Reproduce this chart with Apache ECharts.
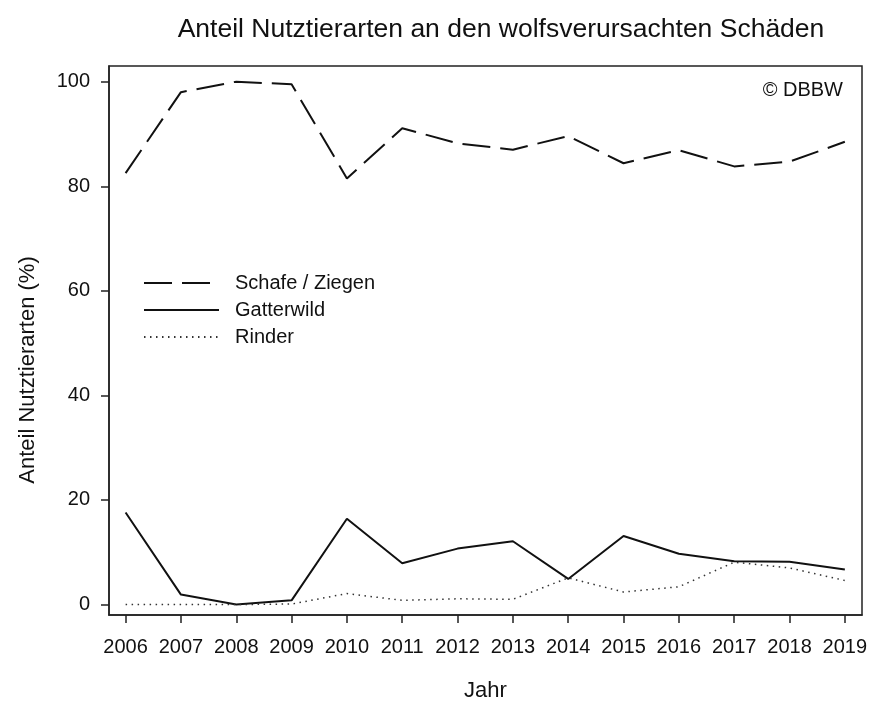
<!DOCTYPE html>
<html>
<head>
<meta charset="utf-8">
<script src="https://cdn.jsdelivr.net/npm/echarts@6/dist/echarts.min.js"></script>
<style>
  html, body { margin: 0; padding: 0; background: #fff; }
  #chart { width: 871px; height: 701px; }
</style>
</head>
<body>
<div id="chart"></div>
<script>
// Werte (Anteil in %)
const years = [2006, 2007, 2008, 2009, 2010, 2011, 2012, 2013, 2014, 2015, 2016, 2017, 2018, 2019]
const schafeZiegen = [82.5, 98.0, 100, 99.5, 81.5, 91.1, 88.2, 87.0, 89.6, 84.4, 86.9, 83.8, 84.7, 88.5]
const gatterwild = [17.6, 1.9, 0, 0.8, 16.4, 7.9, 10.7, 12.1, 4.9, 13.1, 9.7, 8.3, 8.2, 6.7]
const rinder = [0, 0, 0, 0.1, 2.1, 0.8, 1.1, 1.0, 5.1, 2.4, 3.4, 8.1, 7.0, 4.6]
const yTicks = [0, 20, 40, 60, 80, 100]

const font = 'Arial, "Liberation Sans", sans-serif'
const toPairs = arr => arr.map((v, i) => [years[i], v])

const chart = echarts.init(document.getElementById('chart'))

chart.setOption({
  animation: false,
  textStyle: { fontFamily: font, color: '#111' },
  title: {
    text: 'Anteil Nutztierarten an den wolfsverursachten Schäden',
    left: 496,
    top: 11,
    textAlign: 'center',
    textStyle: { fontSize: 26.5, fontWeight: 'normal', color: '#111', fontFamily: font }
  },
  grid: {
    left: 109,
    right: 9,
    top: 66,
    bottom: 86,
    outerBoundsMode: 'none',
    containLabel: false,
    show: true,
    borderColor: '#222',
    borderWidth: 1.5,
    backgroundColor: 'transparent'
  },
  legend: {
    orient: 'vertical',
    left: 138,
    top: 268,
    itemWidth: 75,
    itemHeight: 16,
    itemGap: 7,
    itemStyle: { opacity: 0 },
    textStyle: { fontSize: 20, color: '#111', padding: [0, 0, 0, 11] },
    data: ['Schafe / Ziegen', 'Gatterwild', 'Rinder']
  },
  xAxis: {
    type: 'value',
    min: 2005.7,
    max: 2019.31,
    name: 'Jahr',
    nameLocation: 'middle',
    nameGap: 65,
    nameTextStyle: { fontSize: 22, color: '#111' },
    axisLine: { show: true, onZero: false, lineStyle: { color: '#222', width: 1.5 } },
    axisTick: { show: true, length: 8, customValues: years, lineStyle: { color: '#222', width: 1.5 } },
    axisLabel: {
      customValues: years,
      margin: 22,
      fontSize: 20,
      color: '#111',
      formatter: v => String(v)
    },
    splitLine: { show: false }
  },
  yAxis: {
    type: 'value',
    min: -2,
    max: 103,
    axisLine: { show: true, onZero: false, lineStyle: { color: '#222', width: 1.5 } },
    axisTick: { show: true, length: 8, customValues: yTicks, lineStyle: { color: '#222', width: 1.5 } },
    axisLabel: { customValues: yTicks, margin: 19, fontSize: 20, color: '#111' },
    splitLine: { show: false }
  },
  graphic: [
    {
      type: 'text',
      x: 28,
      y: 370,
      rotation: Math.PI / 2,
      style: {
        text: 'Anteil Nutztierarten (%)',
        font: '22px ' + font,
        fill: '#111',
        align: 'center',
        verticalAlign: 'middle'
      }
    },
    {
      type: 'text',
      x: 843,
      y: 90,
      style: {
        text: '© DBBW',
        font: '20px ' + font,
        fill: '#111',
        align: 'right',
        verticalAlign: 'middle'
      }
    }
  ],
  series: [
    {
      name: 'Schafe / Ziegen',
      type: 'line',
      data: toPairs(schafeZiegen),
      showSymbol: false,
      symbol: 'none',
      lineStyle: { color: '#111', width: 2, type: [28, 10] },
      itemStyle: { color: '#111' }
    },
    {
      name: 'Gatterwild',
      type: 'line',
      data: toPairs(gatterwild),
      showSymbol: false,
      symbol: 'none',
      lineStyle: { color: '#111', width: 2 },
      itemStyle: { color: '#111' }
    },
    {
      name: 'Rinder',
      type: 'line',
      data: toPairs(rinder),
      showSymbol: false,
      symbol: 'none',
      lineStyle: { color: '#333', width: 1.5, type: [1.5, 4.5] },
      itemStyle: { color: '#333' }
    }
  ]
})
</script>
</body>
</html>
